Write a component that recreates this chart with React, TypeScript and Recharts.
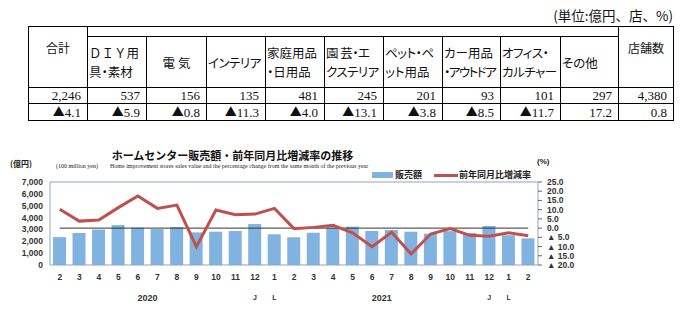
import React from 'react';
import { ComposedChart, Bar, Line, XAxis, YAxis, ReferenceLine } from 'recharts';

// ---------- table data ----------
const tableUnit = '(単位:億円、店、%)';
const totalHeader = '合計';
const storeHeader = '店舗数';
const categoryHeaders: string[][] = [
  ['ＤＩＹ用', '具・素材'],
  ['電 気'],
  ['インテリア'],
  ['家庭用品', '・日用品'],
  ['園 芸・エ', 'クステリア'],
  ['ペット・ペ', 'ット用品'],
  ['カー用品', '・アウトドア'],
  ['オフィス・', 'カルチャー'],
  ['その他'],
];
const salesRow = [2246, 537, 156, 135, 481, 245, 201, 93, 101, 297, 4380];
const changeRow = [-4.1, -5.9, -0.8, -11.3, -4.0, -13.1, -3.8, -8.5, -11.7, 17.2, 0.8];

// ---------- chart data ----------
const chartTitle = 'ホームセンター販売額・前年同月比増減率の推移';
const subtitleUnit = '(100 million yen)';
const subtitleEn = 'Home improvement stores sales value and the percentage change from the same month of the previous year';
const leftUnit = '(億円)';
const rightUnit = '(%)';
const seriesNames = ['販売額', '前年同月比増減率'];
const months = ['2', '3', '4', '5', '6', '7', '8', '9', '10', '11', '12', '1', '2', '3', '4', '5', '6', '7', '8', '9', '10', '11', '12', '1', '2'];
const sales = [2350, 2700, 2990, 3370, 3150, 3030, 3200, 2750, 2810, 2870, 3450, 2590, 2340, 2720, 3150, 3230, 2870, 2950, 2810, 2640, 2850, 2700, 3290, 2500, 2246];
const yoy = [10.2, 3.8, 4.4, 11.1, 17.4, 10.7, 12.5, -10.1, 9.8, 7.3, 7.6, 10.7, -0.3, 0.4, 1.5, -2.5, -10.1, -2.3, -14.0, -3.2, -0.2, -3.9, -4.4, -2.5, -4.1];
const yearLabels = [{ index: 4, text: '2020' }, { index: 16, text: '2021' }];
const markLabels = [{ index: 10, text: 'J' }, { index: 11, text: 'L' }, { index: 22, text: 'J' }, { index: 23, text: 'L' }];
const leftTicks = [0, 1000, 2000, 3000, 4000, 5000, 6000, 7000];
const rightTicks = [25, 20, 15, 10, 5, 0, -5, -10, -15, -20];

const data = months.map((m, i) => ({ id: i, sales: sales[i], yoy: yoy[i] }));

const BAR = '#80b3df';
const RED = '#c0504d';
const AXIS = '#8da4c4';
const chartFont = '"Liberation Sans", Arial, sans-serif';
const jpFont = '"Noto Sans CJK JP", sans-serif';
const serif = '"Liberation Serif", serif';

const renderChange = (v: number) =>
  v < 0 ? (
    <>
      <span style={{ fontFamily: jpFont, fontSize: 12 }}>▲</span>
      {Math.abs(v).toFixed(1)}
    </>
  ) : (
    v.toFixed(1)
  );

const MonthTick = (props: any) => {
  const { x, y, payload } = props;
  const i = Number(payload.value);
  const year = yearLabels.find((d) => d.index === i);
  const mark = markLabels.find((d) => d.index === i);
  const off = payload.offset || 0;
  return (
    <g>
      <text x={x} y={y + 15} textAnchor="middle" fontSize={8.5} fontWeight="bold" fill="#333" fontFamily={chartFont}>
        {months[i]}
      </text>
      {year && (
        <text x={x + off} y={y + 35.5} textAnchor="middle" fontSize={9} fontWeight="bold" fill="#333" fontFamily={chartFont}>
          {year.text}
        </text>
      )}
      {mark && (
        <text x={x} y={y + 35} textAnchor="middle" fontSize={7} fontWeight="bold" fill="#333" fontFamily={chartFont}>
          {mark.text}
        </text>
      )}
    </g>
  );
};

const colWidths = [59, 59, 60, 59, 59, 59, 59, 58, 60, 58, 55];
const cellBorder = '1px solid #000';

export default function App() {
  const th: React.CSSProperties = {
    border: cellBorder,
    padding: 0,
    fontWeight: 'normal',
    fontFamily: jpFont,
    fontSize: 12,
    lineHeight: '19px',
    whiteSpace: 'nowrap',
    overflow: 'hidden',
    color: '#111',
    fontFeatureSettings: '"palt"',
  };
  const td: React.CSSProperties = {
    border: cellBorder,
    padding: '0 6px 0 0',
    textAlign: 'right',
    fontFamily: serif,
    fontSize: 13,
    color: '#111',
    whiteSpace: 'nowrap',
    lineHeight: '15px',
  };
  return (
    <div style={{ position: 'absolute', left: 0, top: 0, width: 690, height: 316, background: '#fff', overflow: 'hidden' }}>
      <div style={{ position: 'absolute', right: 17, top: 5, fontFamily: jpFont, fontSize: 13.5, color: '#111', lineHeight: '20px' }}>{tableUnit}</div>
      <table
        style={{
          position: 'absolute',
          left: 28,
          top: 26,
          borderCollapse: 'collapse',
          tableLayout: 'fixed',
          width: 645,
          border: '1.5px solid #000',
        }}
      >
        <colgroup>
          {colWidths.map((w, i) => (
            <col key={i} style={{ width: w }} />
          ))}
        </colgroup>
        <tbody>
          <tr style={{ height: 10 }}>
            <th rowSpan={2} style={{ ...th, verticalAlign: 'top', paddingTop: 11, textAlign: 'center' }}>{totalHeader}</th>
            <th colSpan={9} style={{ ...th, lineHeight: '8px' }} />
            <th rowSpan={2} style={{ ...th, verticalAlign: 'top', paddingTop: 11, textAlign: 'center' }}>{storeHeader}</th>
          </tr>
          <tr style={{ height: 51 }}>
            {categoryHeaders.map((lines, i) => (
              <th key={i} style={{ ...th, textAlign: i === 1 ? 'center' : 'left', paddingLeft: i === 1 ? 0 : 1, fontSize: 12.5 }}>
                {lines.map((l, j) => (
                  <div
                    key={j}
                    style={{
                      letterSpacing: l.length >= 6 ? -1.5 : l.length === 5 ? -0.5 : 0,
                      fontFeatureSettings: /[Ａ-Ｚ]/.test(l) ? 'normal' : '"palt"',
                    }}
                  >
                    {l}
                  </div>
                ))}
              </th>
            ))}
          </tr>
          <tr style={{ height: 16 }}>
            {salesRow.map((v, i) => (
              <td key={i} style={td}>{v.toLocaleString('en-US')}</td>
            ))}
          </tr>
          <tr style={{ height: 16 }}>
            {changeRow.map((v, i) => (
              <td key={i} style={td}>{renderChange(v)}</td>
            ))}
          </tr>
        </tbody>
      </table>

      <div style={{ position: 'absolute', left: 0, top: 140, width: 690, height: 176 }}>
        <ComposedChart width={690} height={176} data={data} margin={{ top: 42, right: 0, bottom: 0, left: 0 }}>
          <XAxis
            dataKey="id"
            type="category"
            height={51}
            interval={0}
            tick={<MonthTick />}
            tickLine={false}
            tickSize={0}
            tickMargin={0}
            axisLine={{ stroke: AXIS }}
          />
          <YAxis
            yAxisId="left"
            orientation="left"
            width={50}
            domain={[0, 7000]}
            ticks={leftTicks}
            interval={0}
            tickFormatter={(v: number) => v.toLocaleString('en-US')}
            tick={{ fontSize: 8.5, fontWeight: 'bold', fill: '#333', fontFamily: chartFont }}
            tickLine={false}
            tickSize={4}
            tickMargin={3}
            axisLine={{ stroke: AXIS }}
          />
          <YAxis
            yAxisId="right"
            orientation="right"
            width={152}
            domain={[-20, 25]}
            ticks={rightTicks}
            interval={0}
            tickFormatter={(v: number) => (v < 0 ? '▲ ' + Math.abs(v).toFixed(1) : v.toFixed(1))}
            tick={{ fontSize: 8.5, fontWeight: 'bold', fill: '#333', fontFamily: chartFont, textAnchor: 'start' }}
            tickLine={{ stroke: '#666' }}
            tickSize={4}
            tickMargin={5}
            axisLine={{ stroke: AXIS }}
          />
          <ReferenceLine yAxisId="left" y={7000} stroke={AXIS} />
          <Bar yAxisId="left" dataKey="sales" name={seriesNames[0]} fill={BAR} barSize={13} isAnimationActive={false} />
          <ReferenceLine
            yAxisId="right"
            segment={[{ x: 0, y: 0 }, { x: months.length - 1, y: 0 }]}
            stroke="#333"
            strokeWidth={1}
          />
          <Line yAxisId="right" dataKey="yoy" name={seriesNames[1]} stroke={RED} strokeWidth={3} dot={false} isAnimationActive={false} />
        </ComposedChart>
        <div style={{ position: 'absolute', left: 110, top: 8, width: 245, textAlign: 'center', fontFamily: jpFont, fontSize: 11, fontWeight: 'bold', color: '#111', whiteSpace: 'nowrap', lineHeight: '14px' }}>{chartTitle}</div>
        <div style={{ position: 'absolute', left: 10, top: 19, fontFamily: jpFont, fontSize: 8, fontWeight: 'bold', color: '#222', lineHeight: '10px' }}>{leftUnit}</div>
        <div style={{ position: 'absolute', left: 56, top: 22, fontFamily: serif, fontSize: 6, color: '#222', lineHeight: '8px', whiteSpace: 'nowrap' }}>{subtitleUnit}</div>
        <div style={{ position: 'absolute', left: 110, top: 22, fontFamily: serif, fontSize: 6, color: '#222', lineHeight: '8px', whiteSpace: 'nowrap' }}>{subtitleEn}</div>
        <div style={{ position: 'absolute', left: 537, top: 17, fontFamily: chartFont, fontSize: 8, fontWeight: 'bold', color: '#222', lineHeight: '10px' }}>{rightUnit}</div>
        <div style={{ position: 'absolute', left: 372, top: 29, display: 'flex', alignItems: 'center', fontFamily: jpFont, fontSize: 9, fontWeight: 'bold', color: '#222', whiteSpace: 'nowrap', lineHeight: '12px' }}>
          <span style={{ display: 'inline-block', width: 21, height: 6, background: BAR, marginRight: 2 }} />
          <span style={{ marginRight: 12 }}>{seriesNames[0]}</span>
          <span style={{ display: 'inline-block', width: 24, height: 3, background: RED, marginRight: 1 }} />
          <span>{seriesNames[1]}</span>
        </div>
      </div>
    </div>
  );
}
